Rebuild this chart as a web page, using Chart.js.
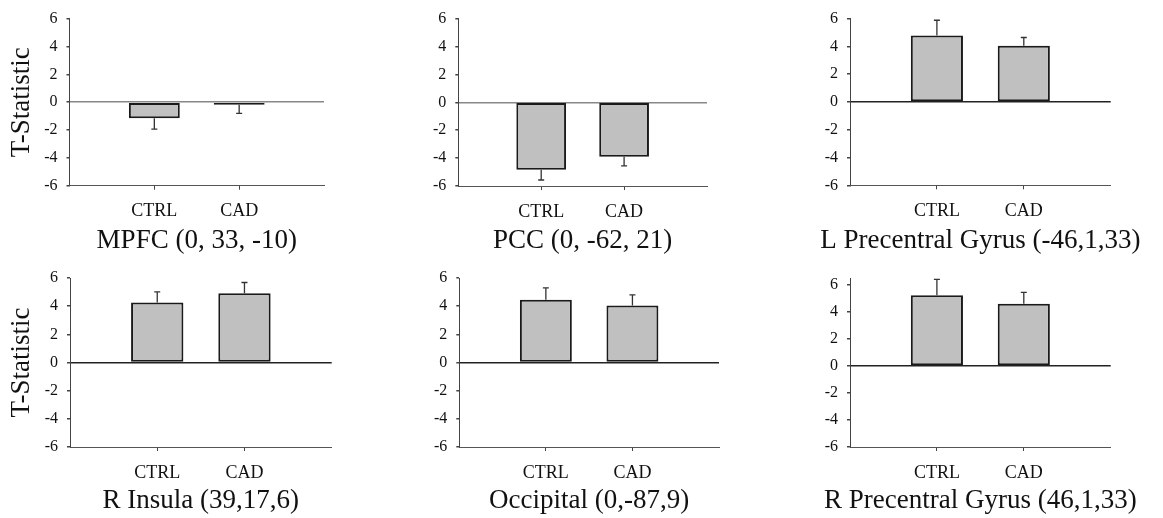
<!doctype html>
<html>

<head>
    <title>T-Statistic</title>
    <script src="https://cdn.jsdelivr.net/npm/chart.js"></script>
    <style>
        body { margin: 0; background: #fff; }
        #figure { position: relative; width: 1163px; height: 518px; }
        #figure canvas { position: absolute; }
    </style>
</head>

<body>

    <div id="figure"></div>

    <script>

    // groups on the x axis and one title per region
    const GROUPS = ['CTRL', 'CAD'];
    const REGIONS = ['MPFC (0, 33, -10)', 'PCC (0, -62, 21)', 'L Precentral Gyrus (-46,1,33)',
                     'R Insula (39,17,6)', 'Occipital (0,-87,9)', 'R Precentral Gyrus (46,1,33)'];

    // mean T values and their error (drawn away from zero)
    const T_CTRL = [-1.15, -4.84, 4.79, 4.26, 4.45, 5.22];
    const T_CAD = [-0.18, -3.90, 4.05, 4.92, 4.05, 4.60];
    const ERR_CTRL = [0.78, 0.73, 1.09, 0.75, 0.85, 1.18];
    const ERR_CAD = [0.62, 0.66, 0.59, 0.76, 0.75, 0.84];

    const Y_TICKS = [-6, -4, -2, 0, 2, 4, 6];
    const Y_MIN = -6;
    const Y_MAX = [6, 6, 6, 6, 6, 6.45];
    const Y_TITLE = 'T-Statistic';

    // canvas box and plot box for each panel (pixels)
    const boxes = [
        { left: 0,   top: 0,   w: 389, h: 258, axisX: 69.5, plotTop: 16.7, plotBottom: 185.7, plotRight: 324,   titleY: 240.5 },
        { left: 389, top: 0,   w: 391, h: 258, axisX: 69.3, plotTop: 15,   plotBottom: 186,   plotRight: 318,   titleY: 240.5 },
        { left: 780, top: 0,   w: 383, h: 258, axisX: 70,   plotTop: 17.3, plotBottom: 185.3, plotRight: 330.7, titleY: 240.5 },
        { left: 0,   top: 258, w: 389, h: 260, axisX: 70,   plotTop: 20,   plotBottom: 189,   plotRight: 331.7, titleY: 243 },
        { left: 389, top: 258, w: 391, h: 260, axisX: 70.3, plotTop: 20,   plotBottom: 189,   plotRight: 330,   titleY: 243 },
        { left: 780, top: 258, w: 383, h: 260, axisX: 70,   plotTop: 20.7, plotBottom: 189,   plotRight: 330.7, titleY: 243 }
    ];

    const FONT = "'Liberation Serif', 'Times New Roman', serif";
    Chart.defaults.font.family = FONT;
    Chart.defaults.color = '#111';

    // one-sided error bars with a small cap
    const errorBars = {
        id: 'errorBars',
        afterDatasetsDraw(chart) {
            var ctx = chart.ctx;
            var y = chart.scales.y;
            var ds = chart.data.datasets[0];
            var meta = chart.getDatasetMeta(0);
            ctx.save();
            ctx.strokeStyle = '#333';
            ctx.lineWidth = 1.3;
            meta.data.forEach((bar, i) => {
                var v = ds.data[i];
                if (v == null) return;
                var end = v + Math.sign(v) * ds.errors[i];
                var y0 = y.getPixelForValue(v);
                var y1 = y.getPixelForValue(end);
                ctx.beginPath();
                ctx.moveTo(bar.x, y0);
                ctx.lineTo(bar.x, y1);
                ctx.moveTo(bar.x - 3, y1);
                ctx.lineTo(bar.x + 3, y1);
                ctx.stroke();
            });
            ctx.restore();
        }
    };

    // region name under the group labels, centred on the plot, at full width
    const regionTitle = {
        id: 'regionTitle',
        afterDraw(chart, args, opts) {
            var ctx = chart.ctx;
            var area = chart.chartArea;
            ctx.save();
            ctx.font = '27px ' + FONT;
            ctx.fillStyle = '#111';
            ctx.textAlign = 'center';
            ctx.textBaseline = 'middle';
            ctx.fillText(opts.text, (area.left + area.right) / 2, opts.y);
            ctx.restore();
        }
    };

    var figure = document.getElementById('figure');

    REGIONS.forEach((region, i) => {
        var b = boxes[i];
        var canvas = document.createElement('canvas');
        canvas.width = b.w;
        canvas.height = b.h;
        canvas.style.left = b.left + 'px';
        canvas.style.top = b.top + 'px';
        figure.appendChild(canvas);

        var firstCol = (i % 3 === 0);
        var zeroColor = T_CTRL[i] < 0 ? '#888' : '#222';

        new Chart(canvas.getContext('2d'), {
            type: 'bar',
            data: {
                // empty slots at both ends keep the groups at 1/3 and 2/3 of the axis
                labels: [''].concat(GROUPS, ['']),
                datasets: [{
                    data: [null, T_CTRL[i], T_CAD[i], null],
                    errors: [null, ERR_CTRL[i], ERR_CAD[i], null],
                    backgroundColor: '#c0c0c0',
                    borderColor: '#1a1a1a',
                    borderWidth: 2,
                    borderSkipped: false,
                    categoryPercentage: 1,
                    barPercentage: 0.6
                }]
            },
            options: {
                responsive: false,
                animation: false,
                devicePixelRatio: 1,
                layout: {
                    padding: { left: 0, top: b.plotTop, right: b.w - b.plotRight, bottom: 0 }
                },
                plugins: {
                    legend: { display: false },
                    tooltip: { enabled: false },
                    regionTitle: { text: region, y: b.titleY }
                },
                scales: {
                    x: {
                        type: 'category',
                        offset: false,
                        grid: {
                            offset: false,
                            drawOnChartArea: false,
                            tickLength: 4,
                            tickColor: ctx => (ctx.tick && ctx.tick.label) ? '#444' : 'transparent'
                        },
                        border: { color: '#555', width: 1 },
                        ticks: {
                            autoSkip: false,
                            maxRotation: 0,
                            padding: 11,
                            font: { size: 18 }
                        },
                        afterFit: s => { s.height = b.h - b.plotBottom; }
                    },
                    y: {
                        min: Y_MIN,
                        max: Y_MAX[i],
                        afterBuildTicks: s => { s.ticks = Y_TICKS.map(v => ({ value: v })); },
                        grid: {
                            color: ctx => (ctx.tick && ctx.tick.value === 0) ? zeroColor : 'transparent',
                            lineWidth: 1.5,
                            tickLength: 3,
                            tickColor: '#444'
                        },
                        border: { color: '#444', width: 1 },
                        ticks: {
                            padding: 9,
                            font: { size: 16 }
                        },
                        title: {
                            display: firstCol,
                            text: Y_TITLE,
                            font: { size: 27, lineHeight: 1 },
                            padding: { top: 8, bottom: 0 }
                        },
                        afterFit: s => { s.width = b.axisX; }
                    }
                }
            },
            plugins: [errorBars, regionTitle]
        });
    });

    </script>
</body>

</html>
